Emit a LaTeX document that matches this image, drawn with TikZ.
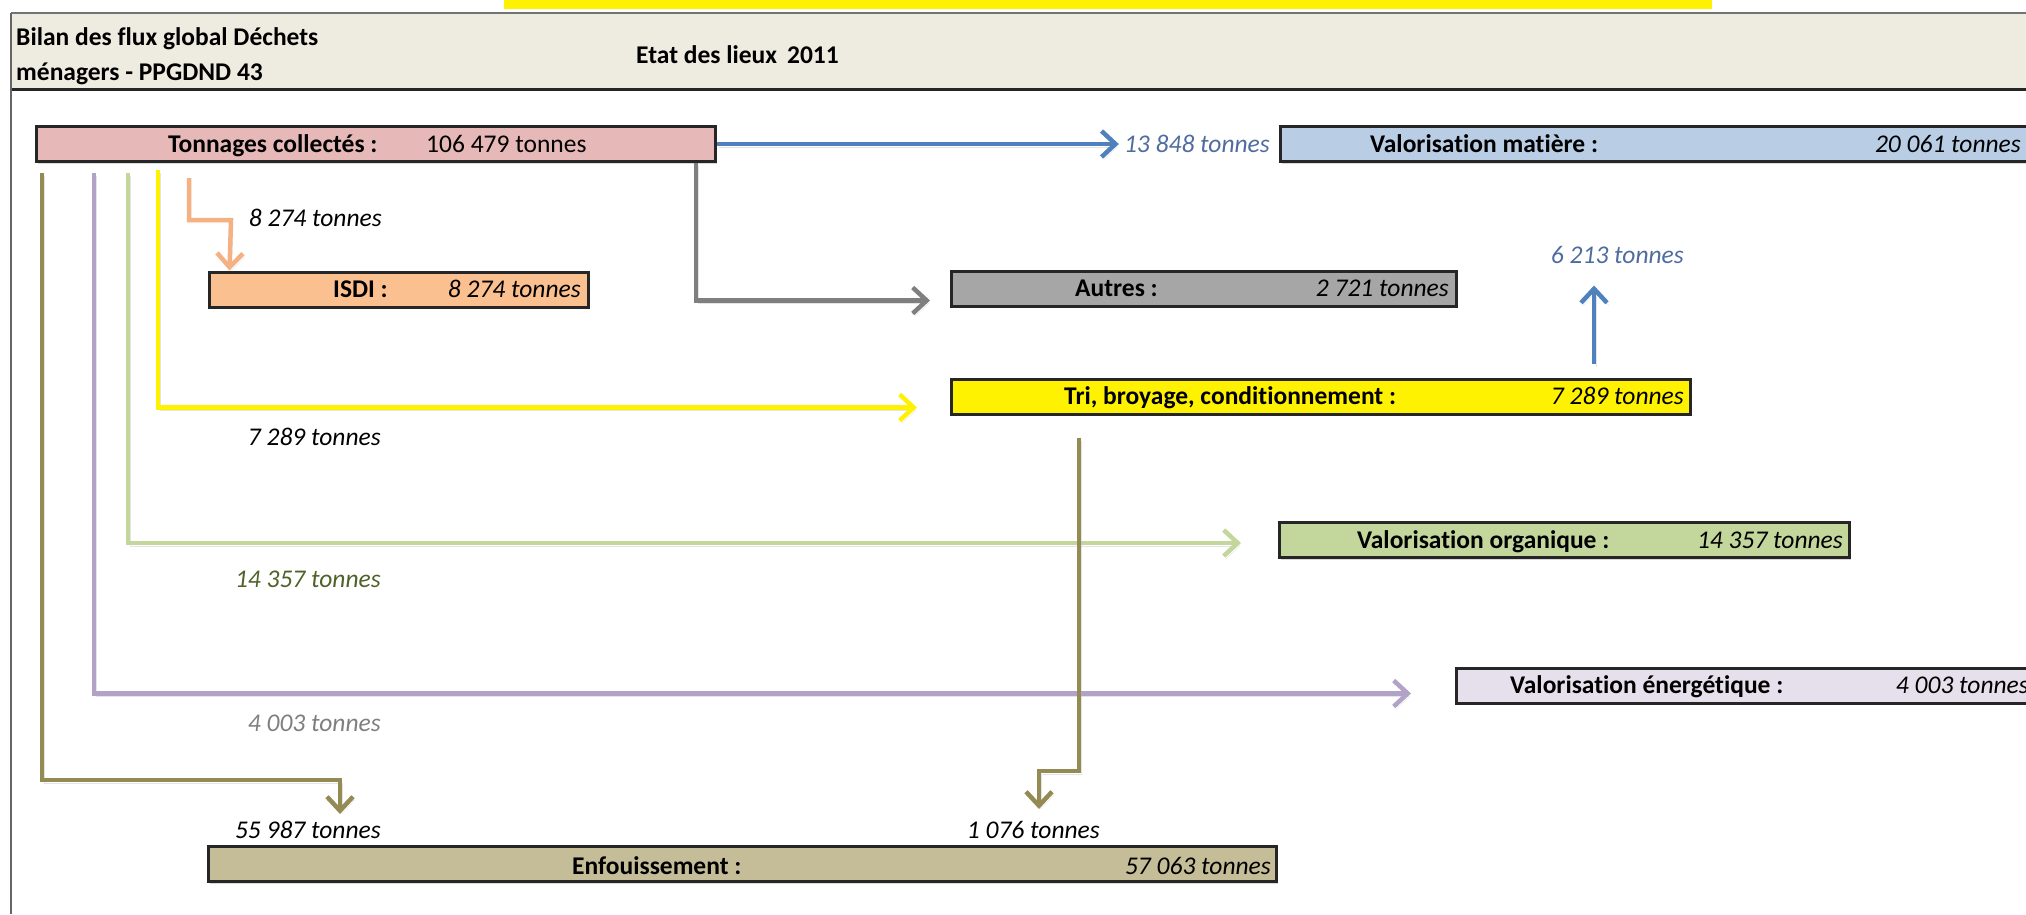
\documentclass[tikz,border=0pt]{standalone}
\usepackage{fontspec}
\setmainfont{Carlito}[Ligatures=NoCommon]
\usetikzlibrary{arrows.meta,calc,shadows}
\definecolor{hdrbg}{HTML}{EEECE1}
\definecolor{cblue}{HTML}{4F81BD}
\definecolor{corange}{HTML}{F4B183}
\definecolor{cgray}{HTML}{7F7F7F}
\definecolor{cgreen}{HTML}{C3D69B}
\definecolor{cpurple}{HTML}{B3A2C7}
\definecolor{colive}{HTML}{948A54}
\definecolor{ftc}{HTML}{E6B9B8}
\definecolor{fvm}{HTML}{B9CDE5}
\definecolor{fisdi}{HTML}{FAC090}
\definecolor{fautres}{HTML}{A6A6A6}
\definecolor{fvo}{HTML}{C3D69B}
\definecolor{fve}{HTML}{E6E0EC}
\definecolor{fenf}{HTML}{C4BD97}
\definecolor{tblue}{HTML}{4F6C9E}
\definecolor{tgreen}{HTML}{4F6228}
\definecolor{tgray}{HTML}{7F7F7F}
\begin{document}
\begin{tikzpicture}[x=1pt,y=-1pt,
  every node/.style={font=\fontsize{25.5}{30}\selectfont, inner sep=0pt},
  box/.style={draw=black!85, line width=3pt, minimum height=35pt,
    drop shadow={shadow xshift=1pt,shadow yshift=-2pt,opacity=.3}},
  ttl/.style={font=\fontsize{25.5}{30}\selectfont\bfseries, anchor=base west},
  amt/.style={font=\fontsize{25.5}{30}\selectfont\itshape, anchor=base east},
  flow/.style={line width=4.5pt,
    -{Straight Barb[length=14pt,width=26pt,line width=4.5pt]},
    preaction={draw=black!30, opacity=.35, transform canvas={xshift=2pt,yshift=-3pt}}},
]
\useasboundingbox (0,0) rectangle (2026,914);
% top strip and header
\fill[yellow] (504,0) rectangle (1712,9);
\fill[hdrbg] (11,13) rectangle (2040,89);
\draw[black!55, line width=2pt] (11,13) -- (2040,13);
\draw[black!85, line width=3pt] (11,89) -- (2040,89);
\draw[black!60, line width=1.5pt] (11,13) -- (11,914);
\node[ttl] (h1) at (16,45) {Bilan des flux global Déchets};
\node[ttl] (h2) at (16,80) {ménagers - PPGDND 43};
\node[ttl] (h3) at (636,63) {Etat des lieux\, 2011};

% boxes
\node[box, fill=ftc, minimum width=679pt] (tc) at (376,144) {};
\node[box, fill=fvm, minimum width=750pt] (vm) at (1655.5,144) {};
\node[box, fill=fisdi, minimum width=379pt] (isdi) at (399,289.5) {};
\node[box, fill=fautres, minimum width=505pt] (autres) at (1204,288.5) {};
\node[box, fill=yellow, minimum width=739pt] (tri) at (1321,396.5) {};
\node[box, fill=fvo, minimum width=570pt] (vo) at (1564.5,540) {};
\node[box, fill=fve, minimum width=582pt] (ve) at (1747.5,685.5) {};
\node[box, fill=fenf, minimum width=1068pt] (enf) at (742.5,864) {};

% box texts
\node[ttl] (tct) at (168,152) {Tonnages collectés :};
\node[anchor=base west] (tca) at (426,152) {106 479 tonnes};
\node[ttl] (vmt) at (1370,152) {Valorisation matière :};
\node[amt] (vma) at (2021,152) {20 061 tonnes};
\node[ttl] (isdit) at (333,297) {ISDI :};
\node[amt] (isdia) at (581,297) {8 274 tonnes};
\node[ttl] (autt) at (1075,296) {Autres :};
\node[amt] (auta) at (1449,296) {2 721 tonnes};
\node[ttl] (trit) at (1064,404) {Tri, broyage, conditionnement :};
\node[amt] (tria) at (1684,404) {7 289 tonnes};
\node[ttl] (vot) at (1357,548) {Valorisation organique :};
\node[amt] (voa) at (1843,548) {14 357 tonnes};
\node[ttl] (vet) at (1510,693) {Valorisation énergétique :};
\node[amt] (vea) at (2029,693) {4 003 tonnes};
\node[ttl] (enft) at (572,874) {Enfouissement :};
\node[amt] (enfa) at (1271,874) {57 063 tonnes};

% flow labels
\node[amt, text=tblue] (l13848) at (1270,152) {13 848 tonnes};
\node[amt] (l8274) at (382,226) {8 274 tonnes};
\node[amt] (l7289) at (381,445) {7 289 tonnes};
\node[amt, text=tgreen] (l14357) at (381,587) {14 357 tonnes};
\node[amt, text=tgray] (l4003) at (381,731) {4 003 tonnes};
\node[amt] (l55987) at (381,838) {55 987 tonnes};
\node[amt] (l1076) at (1100,838) {1 076 tonnes};
\node[amt, text=tblue] (l6213) at (1684,263) {6 213 tonnes};

% trunk starts
\coordinate (ols) at (42,173);
\coordinate (ps) at (94,173);
\coordinate (gs) at (128,173);
\coordinate (ys) at (158,170);
\coordinate (os) at (189,178);

% connectors
\draw[flow, draw=cblue] (tc.east) -- ($(tc.east -| l13848.west)+(-5,0)$);
\draw[flow, draw=corange] (os) |- ++(42,42) -- ($(isdi.north west)+(21.5,0)$);
\draw[flow, draw=cgray] ($(tc.south east)+(-21,0)$) |- ($(autres.west)+(-20,12)$);
\draw[flow, draw=yellow] (ys) |- ($(tri.west)+(-33,11)$);
\draw[flow, draw=cgreen] (gs) |- ($(vo.west)+(-37,3)$);
\draw[flow, draw=cpurple] (ps) |- ($(ve.west)+(-44,8)$);
\draw[flow, draw=colive] (ols) |- ($(enf.north west)+(133,-65)$) -- ($(enf.north west)+(133,-31)$);
\draw[flow, draw=colive] ($(tri.south west)+(129,22)$) |- ($(enf.north west)+(832,-74)$) -- ($(enf.north west)+(832,-36)$);
\draw[flow, draw=cblue] ($(tri.north west)+(644,-14)$) -- ($(tri.north west)+(644,-92)$);
\end{tikzpicture}
\end{document}
